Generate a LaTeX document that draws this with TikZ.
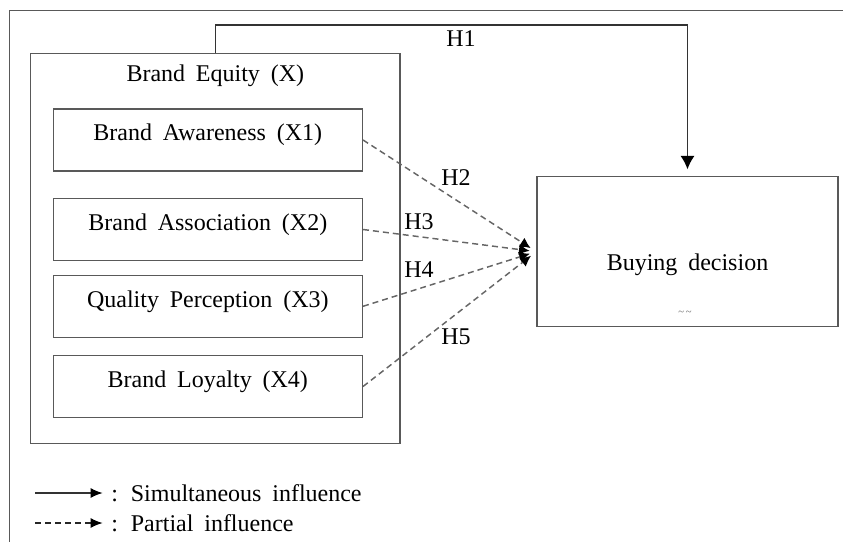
\documentclass[tikz,border=0pt]{standalone}
\usepackage{fontspec}
\setmainfont{Liberation Serif}[WordSpace=1.8]
\usetikzlibrary{arrows.meta}

\begin{document}
\begin{tikzpicture}[x=0.75pt, y=-0.75pt, line width=1.1pt,
    every node/.style={font=\fontsize{18}{20}\selectfont, text=black},
    frame/.style={draw=black!65},
    subbox/.style={draw=black!65, minimum width=231.75pt, inner ysep=0pt, text height=24pt, text depth=22.5pt},
    simul/.style={draw=black!80, -{Latex[length=10pt, width=10.5pt, color=black]}},
    partial/.style={draw=black!60, dash pattern=on 4.5pt off 3pt, -{Latex[length=8pt, width=8pt, color=black]}}]

\useasboundingbox (0,0) rectangle (843,542);

% Outer frame (cut off at right and bottom)
\draw[frame] (843,10.7) -- (9.3,10.7) -- (9.3,542);

% Brand equity and its dimensions
\node[frame, minimum width=277pt, minimum height=292.5pt] (equity) at (215.3,248.3) {};
\node (equitytxt) at (215.3,76) {Brand Equity (X)};

\foreach \i/\y/\txt in {1/140/Brand Awareness (X1), 2/229.5/Brand Association (X2), 3/306.3/Quality Perception (X3), 4/386.5/Brand Loyalty (X4)} {
    \node[subbox] (x\i) at (207.8,\y) {\txt};
}

% Dependent variable
\node[frame, minimum width=225.75pt, inner ysep=0pt, text height=70pt, text depth=42.5pt] (buying) at (687.5,251.7) {Buying decision};
\node[font=\fontsize{8}{8}\selectfont, text=black!60] (tilde) at (685,313) {\textasciitilde\,\textasciitilde};

% Simultaneous influence
\coordinate (h1top) at (215.3,25);
\draw[simul, shorten >=5pt] (equity.north) -- (h1top) -| (buying.north);
\node (h1) at (461,38.5) {H1};

% Partial influences
\foreach \i in {1,...,4} {
    \draw[partial, shorten >=5pt] (x\i.east) -- (buying.west);
}
\node (h2) at (456,178) {H2};
\node (h3) at (419,222) {H3};
\node (h4) at (419,270) {H4};
\node (h5) at (456,337) {H5};

% Legend
\coordinate (legsim) at (35,493);
\coordinate (legpar) at (35,523);
\node[anchor=west, inner sep=2pt] (simtxt) at (108,493) {: Simultaneous influence};
\node[anchor=west, inner sep=2pt] (partxt) at (108,523) {: Partial influence};
\draw[simul, -{Latex[length=9pt, width=7.5pt, color=black]}, shorten >=4pt] (legsim) -- (simtxt.west);
\draw[partial, draw=black!85, -{Latex[length=9pt, width=7.5pt, color=black]}, shorten >=4pt] (legpar) -- (partxt.west);

\end{tikzpicture}
\end{document}
